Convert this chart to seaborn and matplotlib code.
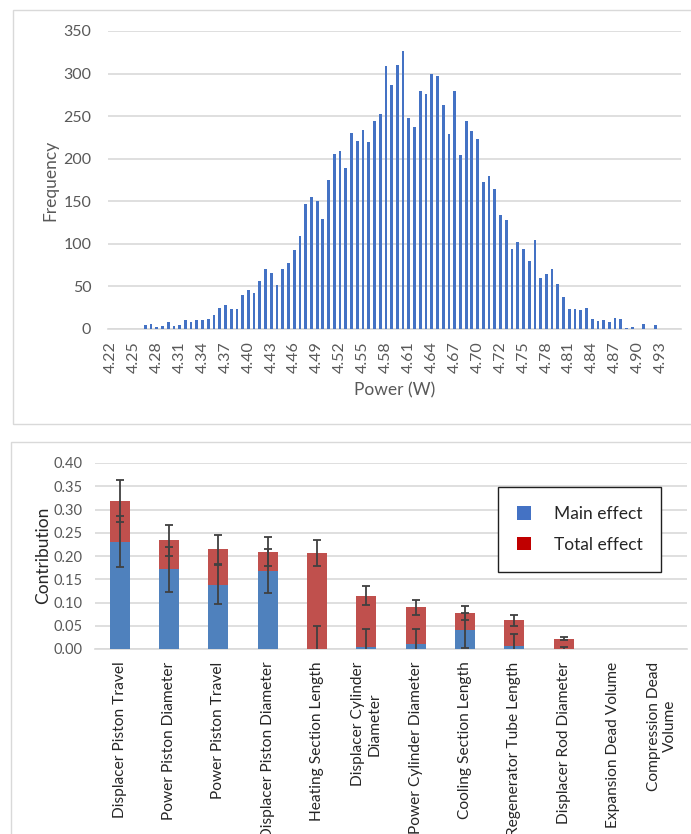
import matplotlib
matplotlib.use("Agg")
import matplotlib.pyplot as plt
from matplotlib.patches import Rectangle, Patch
import seaborn as sns
import pandas as pd
import numpy as np

# ---------------- data ----------------
freq = [0, 0, 0, 0, 0, 0, 5, 6, 2, 4,
        8, 4, 5, 10, 8, 11, 11, 12, 16, 25,
        28, 24, 24, 40, 46, 42, 56, 71, 66, 52,
        70, 78, 93, 109, 147, 155, 150, 129, 175, 206,
        209, 189, 230, 221, 234, 220, 244, 252, 309, 287,
        310, 327, 248, 237, 280, 276, 299, 297, 263, 229,
        279, 204, 244, 232, 223, 173, 180, 164, 134, 128,
        94, 102, 94, 80, 105, 60, 65, 71, 53, 37,
        24, 24, 22, 25, 12, 9, 11, 8, 13, 12,
        1, 2, 0, 6, 0, 5, 0, 0, 0, 0]
power_tick_labels = ["4.22", "4.25", "4.28", "4.31", "4.34", "4.37", "4.40", "4.43",
                     "4.46", "4.49", "4.52", "4.55", "4.58", "4.61", "4.64", "4.67",
                     "4.70", "4.72", "4.75", "4.78", "4.81", "4.84", "4.87", "4.90", "4.93"]
freq_yticks = [0, 50, 100, 150, 200, 250, 300, 350]

params = ["Displacer Piston Travel", "Power Piston Diameter", "Power Piston Travel",
          "Displacer Piston Diameter", "Heating Section Length",
          "Displacer Cylinder\nDiameter", "Power Cylinder Diameter",
          "Cooling Section Length", "Regenerator Tube Length", "Displacer Rod Diameter",
          "Expansion Dead Volume", "Compression Dead\nVolume"]
main_effect = [0.231, 0.171, 0.138, 0.167, 0.0, 0.004, 0.0115, 0.040, 0.007, 0.0, 0.0, 0.0]
total_effect = [0.318, 0.234, 0.214, 0.209, 0.207, 0.115, 0.090, 0.077, 0.062, 0.022, 0.0, 0.0]
main_err = [0.055, 0.048, 0.042, 0.047, 0.049, 0.040, 0.031, 0.037, 0.025, 0.005, 0.0, 0.0]
total_err = [0.045, 0.033, 0.032, 0.031, 0.028, 0.020, 0.016, 0.015, 0.012, 0.003, 0.0, 0.0]
contrib_yticks = [0.00, 0.05, 0.10, 0.15, 0.20, 0.25, 0.30, 0.35, 0.40]

# ---------------- style ----------------
sns.set_theme()
sns.set_style("white")
plt.rcParams['font.family'] = ['Lato', 'DejaVu Sans']

W, H = 691, 834
fig = plt.figure(figsize=(W / 100, H / 100), dpi=100)

def ax_rect(x0, y0, x1, y1):
    return [x0 / W, 1 - y1 / H, (x1 - x0) / W, (y1 - y0) / H]

GRID = "#d9d9d9"
TXT = "#595959"

# panel borders
fig.patches.append(Rectangle((13 / W, 1 - 424 / H), (700 - 13) / W, (424 - 10) / H,
                             transform=fig.transFigure, fill=False, edgecolor=GRID, lw=1))
fig.patches.append(Rectangle((11 / W, 1 - 850 / H), (700 - 11) / W, (850 - 442) / H,
                             transform=fig.transFigure, fill=False, edgecolor=GRID, lw=1))

# ---------------- top histogram ----------------
ax1 = fig.add_axes(ax_rect(108, 31, 681, 329))
df1 = pd.DataFrame({"bin": np.arange(len(freq)), "freq": freq})
sns.barplot(data=df1, x="bin", y="freq", color="#4472C4", saturation=1,
            width=0.48, errorbar=None, ax=ax1, zorder=3, linewidth=0)
ax1.set_xlim(-0.5, len(freq) - 0.5)
ax1.set_ylim(0, 350)
ax1.set_yticks(freq_yticks)
ax1.set_yticklabels([str(v) for v in freq_yticks])
ax1.set_xticks(np.arange(0, 4 * len(power_tick_labels), 4))
ax1.set_xticklabels(power_tick_labels, rotation=90, ha="center", va="top")
ax1.yaxis.grid(True, color=GRID, lw=1.2)
ax1.set_axisbelow(True)
for s in ["top", "right", "left"]:
    ax1.spines[s].set_visible(False)
ax1.spines["bottom"].set_color(GRID)
ax1.spines["bottom"].set_linewidth(1.2)
ax1.tick_params(axis="x", length=0, pad=9, labelsize=11.5, labelcolor=TXT)
ax1.tick_params(axis="y", length=0, pad=12, labelsize=11.5, labelcolor=TXT)
ax1.set_xlabel("")
ax1.set_ylabel("")
fig.text(50 / W, 1 - 180 / H, "Frequency", rotation=90, ha="center", va="center",
         fontsize=12.5, color=TXT)
fig.text(395 / W, 1 - 390 / H, "Power (W)", ha="center", va="center",
         fontsize=12.5, color=TXT)

# ---------------- bottom sensitivity chart ----------------
ax2 = fig.add_axes(ax_rect(95, 463, 687, 649))
df2 = pd.DataFrame({"param": params, "main": main_effect, "total": total_effect})
RED = "#C0504D"
BLUE = "#4F81BD"
sns.barplot(data=df2, x="param", y="total", color=RED, saturation=1, width=0.4,
            errorbar=None, ax=ax2, zorder=3, linewidth=0)
sns.barplot(data=df2, x="param", y="main", color=BLUE, saturation=1, width=0.4,
            errorbar=None, ax=ax2, zorder=4, linewidth=0)
xpos = np.arange(len(params))
for vals, errs in [(total_effect, total_err), (main_effect, main_err)]:
    idx = [i for i, e in enumerate(errs) if e > 0]
    ax2.errorbar(xpos[idx], np.array(vals)[idx], yerr=np.array(errs)[idx], fmt="none",
                 ecolor="#404040", elinewidth=1.3, capsize=3, capthick=1.3, zorder=5)
ax2.set_xlim(-0.5, len(params) - 0.5)
ax2.set_ylim(0, 0.40)
ax2.set_yticks(contrib_yticks)
ax2.set_yticklabels([f"{v:.2f}" for v in contrib_yticks])
ax2.set_xticks(xpos)
ax2.set_xticklabels(params, rotation=90, ha="center", va="top", multialignment="center")
ax2.yaxis.grid(True, color=GRID, lw=1.2)
ax2.set_axisbelow(True)
for s in ["top", "right", "left"]:
    ax2.spines[s].set_visible(False)
ax2.spines["bottom"].set_color(GRID)
ax2.spines["bottom"].set_linewidth(1.2)
ax2.tick_params(axis="x", length=0, pad=9, labelsize=11.2, labelcolor="#262626")
ax2.tick_params(axis="y", length=0, pad=9, labelsize=10.5, labelcolor=TXT)
ax2.set_xlabel("")
ax2.set_ylabel("")
fig.text(43 / W, 1 - 555 / H, "Contribution", rotation=90, ha="center", va="center",
         fontsize=12.5, color="#262626")

handles = [Patch(facecolor="#4472C4", edgecolor="none", label="Main effect"),
           Patch(facecolor="#C00000", edgecolor="none", label="Total effect")]
leg = fig.legend(handles=handles, loc="upper left", bbox_to_anchor=(498 / W, 1 - 487 / H),
                 frameon=True, fancybox=False, edgecolor="#202020", framealpha=1,
                 fontsize=12.5, borderpad=1.1, labelspacing=0.85, handlelength=0.8,
                 handleheight=0.8, handletextpad=1.3, borderaxespad=0)
leg.get_frame().set_linewidth(1.0)

fig.savefig("out.png", dpi=100)
